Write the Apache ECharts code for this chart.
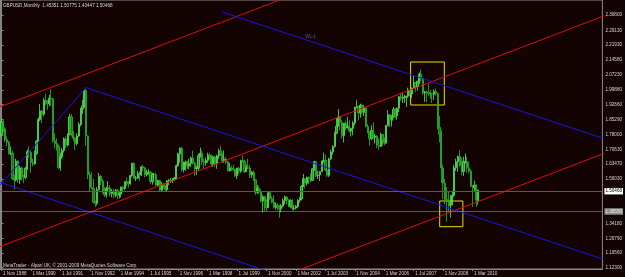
<!DOCTYPE html>
<html>
<head>
    <meta charset="UTF-8"/>
    <script type="text/javascript" src="https://cdn.jsdelivr.net/npm/echarts@6/dist/echarts.min.js"></script>
    <title>GBPUSD,Monthly</title>
    <style>
        html, body { margin: 0; padding: 0; background: #140303; }
        #chart { width: 625px; height: 277px; }
    </style>
</head>
<body>
<div id="chart"></div>

<script type="text/javascript">
    // monthly bars, 1 Nov 1988 .. 1 Jun 2010
    var opens = [
        1.775, 1.843,
        1.808, 1.754, 1.742, 1.685, 1.688, 1.563, 1.555, 1.648, 1.558, 1.614, 1.578, 1.568,
        1.612, 1.695, 1.691, 1.641, 1.635, 1.685, 1.746, 1.853, 1.895, 1.879, 1.947, 1.941,
        1.932, 1.958, 1.955, 1.748, 1.735, 1.720, 1.616, 1.669, 1.701, 1.757, 1.727, 1.779,
        1.866, 1.781, 1.761, 1.734, 1.772, 1.828, 1.905, 1.919, 1.996, 1.772, 1.580, 1.518,
        1.513, 1.445, 1.440, 1.507, 1.573, 1.550, 1.494, 1.482, 1.513, 1.516, 1.488, 1.496,
        1.480, 1.505, 1.481, 1.486, 1.520, 1.513, 1.547, 1.544, 1.536, 1.577, 1.637, 1.564,
        1.565, 1.587, 1.580, 1.620, 1.615, 1.582, 1.594, 1.594, 1.548, 1.581, 1.581, 1.530,
        1.553, 1.505, 1.534, 1.527, 1.508, 1.551, 1.551, 1.554, 1.556, 1.565, 1.626, 1.684,
        1.712, 1.606, 1.639, 1.643, 1.624, 1.637, 1.664, 1.637, 1.612, 1.613, 1.675, 1.687,
        1.645, 1.640, 1.652, 1.678, 1.673, 1.634, 1.669, 1.635, 1.674, 1.699, 1.679, 1.649,
        1.658, 1.645, 1.600, 1.614, 1.612, 1.607, 1.576, 1.613, 1.599, 1.651, 1.646, 1.596,
        1.615, 1.614, 1.580, 1.593, 1.556, 1.495, 1.514, 1.496, 1.452, 1.473, 1.453, 1.419,
        1.493, 1.463, 1.446, 1.420, 1.431, 1.420, 1.413, 1.427, 1.454, 1.471, 1.455, 1.426,
        1.455, 1.415, 1.417, 1.425, 1.455, 1.463, 1.524, 1.562, 1.539, 1.568, 1.561, 1.553,
        1.610, 1.646, 1.577, 1.580, 1.596, 1.646, 1.652, 1.605, 1.578, 1.659, 1.694, 1.720,
        1.786, 1.820, 1.866, 1.839, 1.773, 1.835, 1.813, 1.820, 1.796, 1.809, 1.836, 1.914,
        1.918, 1.886, 1.924, 1.888, 1.910, 1.819, 1.791, 1.759, 1.799, 1.765, 1.771, 1.726,
        1.721, 1.779, 1.753, 1.736, 1.824, 1.877, 1.849, 1.868, 1.903, 1.872, 1.909, 1.965,
        1.958, 1.962, 1.963, 1.968, 1.999, 1.979, 2.008, 2.035, 2.015, 2.042, 2.077, 2.055,
        1.984, 1.989, 1.986, 1.984, 1.980, 1.978, 1.991, 1.982, 1.815, 1.782, 1.614, 1.539,
        1.459, 1.453, 1.431, 1.433, 1.479, 1.616, 1.645, 1.671, 1.627, 1.597, 1.646, 1.646,
        1.615, 1.599, 1.523, 1.518, 1.530, 1.4535
    ];
    var highs = [
        1.857, 1.850,
        1.815, 1.770, 1.748, 1.720, 1.700, 1.580, 1.660, 1.652, 1.625, 1.622, 1.580, 1.620,
        1.705, 1.720, 1.700, 1.660, 1.700, 1.752, 1.863, 1.930, 1.900, 1.960, 1.980, 1.950,
        1.975, 2.004, 1.960, 1.785, 1.760, 1.730, 1.690, 1.712, 1.765, 1.770, 1.785, 1.880,
        1.880, 1.797, 1.768, 1.785, 1.840, 1.910, 1.950, 2.004, 2.010, 1.775, 1.598, 1.594,
        1.560, 1.455, 1.520, 1.590, 1.580, 1.560, 1.520, 1.522, 1.550, 1.530, 1.510, 1.510,
        1.512, 1.510, 1.500, 1.522, 1.525, 1.550, 1.567, 1.550, 1.580, 1.640, 1.642, 1.575,
        1.600, 1.598, 1.625, 1.630, 1.620, 1.605, 1.610, 1.600, 1.590, 1.590, 1.590, 1.556,
        1.556, 1.545, 1.540, 1.530, 1.555, 1.560, 1.565, 1.565, 1.570, 1.632, 1.690, 1.715,
        1.718, 1.645, 1.650, 1.650, 1.660, 1.670, 1.700, 1.645, 1.625, 1.685, 1.715, 1.700,
        1.660, 1.665, 1.690, 1.690, 1.680, 1.675, 1.675, 1.680, 1.710, 1.723, 1.690, 1.700,
        1.668, 1.650, 1.640, 1.625, 1.630, 1.612, 1.615, 1.620, 1.655, 1.675, 1.655, 1.630,
        1.660, 1.630, 1.600, 1.602, 1.560, 1.530, 1.525, 1.510, 1.480, 1.475, 1.460, 1.495,
        1.500, 1.475, 1.480, 1.445, 1.440, 1.432, 1.436, 1.465, 1.478, 1.476, 1.462, 1.460,
        1.460, 1.432, 1.432, 1.460, 1.470, 1.530, 1.585, 1.565, 1.572, 1.573, 1.588, 1.612,
        1.650, 1.648, 1.600, 1.600, 1.650, 1.690, 1.680, 1.614, 1.665, 1.705, 1.725, 1.790,
        1.860, 1.905, 1.870, 1.850, 1.836, 1.848, 1.866, 1.850, 1.813, 1.845, 1.915, 1.948,
        1.920, 1.931, 1.930, 1.925, 1.915, 1.830, 1.793, 1.825, 1.838, 1.782, 1.775, 1.760,
        1.789, 1.780, 1.765, 1.825, 1.899, 1.880, 1.875, 1.915, 1.910, 1.912, 1.970, 1.985,
        1.985, 1.975, 1.970, 2.010, 2.000, 2.010, 2.068, 2.037, 2.043, 2.085, 2.100, 2.058,
        1.995, 1.995, 2.030, 2.000, 1.985, 2.002, 2.006, 1.985, 1.870, 1.800, 1.630, 1.560,
        1.520, 1.498, 1.482, 1.502, 1.630, 1.660, 1.675, 1.701, 1.665, 1.670, 1.686, 1.670,
        1.646, 1.607, 1.529, 1.552, 1.534, 1.5078
    ];
    var lows = [
        1.767, 1.790,
        1.742, 1.722, 1.680, 1.677, 1.555, 1.508, 1.548, 1.542, 1.535, 1.552, 1.540, 1.560,
        1.605, 1.666, 1.590, 1.622, 1.630, 1.680, 1.740, 1.845, 1.835, 1.870, 1.925, 1.900,
        1.920, 1.920, 1.740, 1.710, 1.700, 1.608, 1.600, 1.658, 1.690, 1.712, 1.720, 1.775,
        1.770, 1.745, 1.704, 1.725, 1.768, 1.820, 1.880, 1.910, 1.723, 1.560, 1.497, 1.510,
        1.440, 1.422, 1.430, 1.505, 1.530, 1.488, 1.470, 1.468, 1.500, 1.475, 1.470, 1.466,
        1.470, 1.460, 1.465, 1.470, 1.495, 1.505, 1.525, 1.518, 1.532, 1.570, 1.561, 1.550,
        1.560, 1.550, 1.575, 1.600, 1.568, 1.573, 1.582, 1.536, 1.532, 1.565, 1.525, 1.522,
        1.500, 1.500, 1.512, 1.500, 1.500, 1.530, 1.540, 1.540, 1.552, 1.560, 1.620, 1.640,
        1.596, 1.592, 1.600, 1.610, 1.608, 1.620, 1.630, 1.576, 1.580, 1.600, 1.665, 1.630,
        1.610, 1.625, 1.640, 1.655, 1.622, 1.620, 1.620, 1.610, 1.660, 1.675, 1.640, 1.640,
        1.633, 1.596, 1.598, 1.600, 1.598, 1.570, 1.560, 1.585, 1.590, 1.640, 1.590, 1.596,
        1.610, 1.565, 1.565, 1.550, 1.480, 1.486, 1.487, 1.445, 1.395, 1.403, 1.400, 1.416,
        1.455, 1.440, 1.414, 1.410, 1.406, 1.370, 1.396, 1.420, 1.435, 1.435, 1.420, 1.418,
        1.405, 1.406, 1.410, 1.416, 1.443, 1.455, 1.520, 1.513, 1.527, 1.535, 1.544, 1.550,
        1.600, 1.570, 1.560, 1.550, 1.595, 1.640, 1.598, 1.570, 1.570, 1.655, 1.680, 1.715,
        1.780, 1.820, 1.800, 1.760, 1.740, 1.800, 1.808, 1.790, 1.770, 1.775, 1.825, 1.908,
        1.850, 1.862, 1.880, 1.870, 1.815, 1.785, 1.725, 1.752, 1.758, 1.735, 1.712, 1.705,
        1.718, 1.724, 1.726, 1.736, 1.820, 1.816, 1.818, 1.860, 1.860, 1.852, 1.890, 1.945,
        1.935, 1.935, 1.915, 1.960, 1.967, 1.960, 2.005, 1.990, 1.995, 2.028, 2.040, 1.975,
        1.940, 1.940, 1.970, 1.955, 1.935, 1.950, 1.970, 1.805, 1.740, 1.540, 1.460, 1.435,
        1.350, 1.400, 1.370, 1.431, 1.472, 1.600, 1.596, 1.620, 1.578, 1.574, 1.635, 1.592,
        1.587, 1.521, 1.423, 1.502, 1.423, 1.4345
    ];
    var closes = [
        1.843, 1.808,
        1.754, 1.742, 1.685, 1.688, 1.563, 1.555, 1.648, 1.558, 1.614, 1.578, 1.568, 1.612,
        1.695, 1.691, 1.641, 1.635, 1.685, 1.746, 1.853, 1.895, 1.879, 1.947, 1.941, 1.932,
        1.958, 1.955, 1.748, 1.735, 1.720, 1.616, 1.669, 1.701, 1.757, 1.727, 1.779, 1.866,
        1.781, 1.761, 1.734, 1.772, 1.828, 1.905, 1.919, 1.996, 1.772, 1.580, 1.518, 1.513,
        1.445, 1.440, 1.507, 1.573, 1.550, 1.494, 1.482, 1.513, 1.516, 1.488, 1.496, 1.480,
        1.505, 1.481, 1.486, 1.520, 1.513, 1.547, 1.544, 1.536, 1.577, 1.637, 1.564, 1.565,
        1.587, 1.580, 1.620, 1.615, 1.582, 1.594, 1.594, 1.548, 1.581, 1.581, 1.530, 1.553,
        1.505, 1.534, 1.527, 1.508, 1.551, 1.551, 1.554, 1.556, 1.565, 1.626, 1.684, 1.712,
        1.606, 1.639, 1.643, 1.624, 1.637, 1.664, 1.637, 1.612, 1.613, 1.675, 1.687, 1.645,
        1.640, 1.652, 1.678, 1.673, 1.634, 1.669, 1.635, 1.674, 1.699, 1.679, 1.649, 1.658,
        1.645, 1.600, 1.614, 1.612, 1.607, 1.576, 1.613, 1.599, 1.651, 1.646, 1.596, 1.615,
        1.614, 1.580, 1.593, 1.556, 1.495, 1.514, 1.496, 1.452, 1.473, 1.453, 1.419, 1.493,
        1.463, 1.446, 1.420, 1.431, 1.420, 1.413, 1.427, 1.454, 1.471, 1.455, 1.426, 1.455,
        1.415, 1.417, 1.425, 1.455, 1.463, 1.524, 1.562, 1.539, 1.568, 1.561, 1.553, 1.610,
        1.646, 1.577, 1.580, 1.596, 1.646, 1.652, 1.605, 1.578, 1.659, 1.694, 1.720, 1.786,
        1.820, 1.866, 1.839, 1.773, 1.835, 1.813, 1.820, 1.796, 1.809, 1.836, 1.914, 1.918,
        1.886, 1.924, 1.888, 1.910, 1.819, 1.791, 1.759, 1.799, 1.765, 1.771, 1.726, 1.721,
        1.779, 1.753, 1.736, 1.824, 1.877, 1.849, 1.868, 1.903, 1.872, 1.909, 1.965, 1.958,
        1.962, 1.963, 1.968, 1.999, 1.979, 2.008, 2.035, 2.015, 2.042, 2.077, 2.055, 1.984,
        1.989, 1.986, 1.984, 1.980, 1.978, 1.991, 1.982, 1.815, 1.782, 1.614, 1.539, 1.459,
        1.453, 1.431, 1.433, 1.479, 1.616, 1.645, 1.671, 1.627, 1.597, 1.646, 1.646, 1.615,
        1.599, 1.523, 1.518, 1.530, 1.455, 1.5047
    ];

    // price scale labels as printed by the terminal
    var priceTicks = [2.3680, 2.2913, 2.2193, 2.1458, 2.0723, 1.9988, 1.9266, 1.8529, 1.7800,
        1.7063, 1.6347, 1.5603, 1.3418, 1.2679, 1.1956, 1.1230];
    var bidPrice = 1.50468;
    var levelPrice = 1.3955;

    // drawn objects: [month index from Nov 1988, price]
    var redLines = [
        [[-1, 1.9146], [200, 2.6109]],
        [[-1, 1.2263], [330, 2.3729]],
        [[150, 1.0714], [330, 1.6949]]
    ];
    var blueLines = [
        [[-1, 1.5272], [46, 2.0100]],
        [[46, 2.0100], [330, 1.1560]],
        [[-1, 1.5441], [200, 0.9397]],
        [[120, 2.3825], [330, 1.7511]]
    ];
    var boxes = [
        [[222.3, 2.1364], [240.6, 1.9246]],
        [[238.1, 1.4516], [250.7, 1.3250]]
    ];
    var wlLabelPos = [168, 2.2596];

    var monthNames = ['Jan', 'Feb', 'Mar', 'Apr', 'May', 'Jun', 'Jul', 'Aug', 'Sep', 'Oct', 'Nov', 'Dec'];
    var slotCount = 327;
    var months = [];
    for (var i = 0; i < slotCount; i++) {
        var mi = 10 + i;
        months.push('1 ' + monthNames[mi % 12] + ' ' + (1988 + Math.floor(mi / 12)));
    }

    var candles = [];
    for (var k = 0; k < opens.length; k++) {
        candles.push([opens[k], closes[k], lows[k], highs[k]]);
    }

    // date marks only every 16 bars and only where bars exist
    function showDate(index) {
        return index % 16 === 0 && index < opens.length;
    }

    var font = 'Liberation Sans';
    var textColor = '#d6d6d6';
    var frameColor = '#8a8a8a';

    function trendSeries(pts, color, extra) {
        var s = {
            type: 'line',
            xAxisIndex: 1,
            data: pts,
            showSymbol: false,
            symbol: 'none',
            silent: true,
            clip: true,
            lineStyle: {color: color, width: 1}
        };
        for (var key in extra) s[key] = extra[key];
        return s;
    }

    var series = [{
        type: 'candlestick',
        xAxisIndex: 0,
        data: candles,
        barWidth: '92%',
        itemStyle: {
            color: '#1c9c1c',
            color0: '#107a10',
            borderColor: '#55ea55',
            borderColor0: '#2bb82b',
            borderWidth: 0.8
        },
        markLine: {
            symbol: ['none', 'none'],
            silent: true,
            animation: false,
            data: [
                {
                    yAxis: bidPrice,
                    lineStyle: {color: '#40607a', width: 1, type: 'solid', opacity: 1},
                    label: {
                        position: 'end', distance: 2, formatter: bidPrice.toFixed(5),
                        backgroundColor: '#ffffff', color: '#000000', fontSize: 4.6,
                        fontFamily: font, padding: [1, 1, 0.5, 1]
                    }
                },
                {
                    yAxis: levelPrice,
                    lineStyle: {color: '#a8a8a8', width: 1, type: 'dotted', opacity: 1},
                    label: {
                        position: 'end', distance: 2, formatter: levelPrice.toFixed(5),
                        backgroundColor: '#8c8c8c', color: '#e8e8e8', fontSize: 4.6,
                        fontFamily: font, padding: [1, 1, 0.5, 1]
                    }
                }
            ]
        }
    }];

    redLines.forEach(function (pts) {
        series.push(trendSeries(pts, '#e00e0e', {}));
    });
    blueLines.forEach(function (pts, idx) {
        var extra = {};
        if (idx === 3) {
            extra.markPoint = {
                symbol: 'circle', symbolSize: 0, silent: true,
                data: [{coord: wlLabelPos}],
                label: {show: true, position: 'inside', formatter: 'WL-1', color: '#5656c8', fontSize: 4.6, fontFamily: font}
            };
            extra.markArea = {
                silent: true,
                itemStyle: {color: 'rgba(0,0,0,0)', borderColor: '#e2e200', borderWidth: 1},
                data: boxes.map(function (b) {
                    return [{coord: b[0]}, {coord: b[1]}];
                })
            };
        }
        series.push(trendSeries(pts, '#1616e6', extra));
    });

    var myChart = echarts.init(document.getElementById('chart'));
    var option = {
        animation: false,
        backgroundColor: '#140303',
        title: [
            {
                text: 'GBPUSD,Monthly  1.45351 1.50775 1.43447 1.50468',
                left: 3, top: 3, padding: 0,
                textStyle: {fontSize: 4.6, color: textColor, fontWeight: 'normal', fontFamily: font}
            },
            {
                text: 'MetaTrader - Alpari UK, \u00a9 2001-2009 MetaQuotes Software Corp.',
                left: 3, top: 263, padding: 0,
                textStyle: {fontSize: 4.6, color: textColor, fontWeight: 'normal', fontFamily: font}
            }
        ],
        grid: {
            left: 0, right: 17.4, top: 0, bottom: 8,
            show: true, backgroundColor: '#140303', borderColor: frameColor, borderWidth: 1
        },
        xAxis: [
            {
                type: 'category',
                data: months,
                boundaryGap: true,
                axisLine: {show: true, lineStyle: {color: frameColor}},
                axisTick: {show: true, interval: showDate, alignWithLabel: true, length: 2, lineStyle: {color: frameColor}},
                axisLabel: {
                    interval: showDate, align: 'left', margin: 2, padding: [0, 0, 0, 1.5],
                    color: textColor, fontSize: 4.6, fontFamily: font
                },
                splitLine: {show: false}
            },
            {
                type: 'value',
                min: -0.5,
                max: slotCount - 0.5,
                show: false
            }
        ],
        yAxis: {
            type: 'value',
            position: 'right',
            min: 1.1166,
            max: 2.4419,
            axisLine: {show: true, lineStyle: {color: frameColor}},
            axisTick: {show: true, length: 2, customValues: priceTicks, lineStyle: {color: frameColor}},
            axisLabel: {
                customValues: priceTicks,
                formatter: function (v) { return v.toFixed(5); },
                color: textColor, fontSize: 4.6, fontFamily: font, margin: 3
            },
            splitLine: {show: false}
        },
        series: series
    };
    myChart.setOption(option);
</script>
</body>
</html>
